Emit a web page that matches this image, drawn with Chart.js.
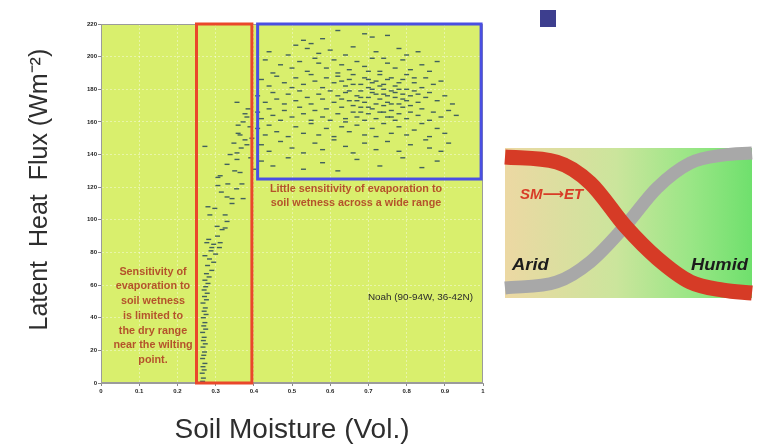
<!DOCTYPE html>
<html>
<head>
<meta charset="utf-8">
<title>Soil moisture vs latent heat flux</title>
<script src="https://cdn.jsdelivr.net/npm/chart.js@4/dist/chart.umd.min.js"></script>
<style>
    html, body { margin: 0; padding: 0; background: #fff; }
    #wrap { position: relative; width: 757px; height: 447px; overflow: hidden; }
    #scatter { position: absolute; left: 0; top: 0; }
    #curves { position: absolute; left: 495px; top: 130px; }
    #marker { position: absolute; left: 540px; top: 10px; width: 16px; height: 17px; background: #3d3e8e; }
</style>
</head>
<body>
<div id="wrap">
    <canvas id="scatter" width="495" height="447"></canvas>
    <canvas id="curves" width="262" height="190"></canvas>
    <div id="marker"></div>
</div>
<script>
// axis ticks
var xTickLabels = ['0', '0.1', '0.2', '0.3', '0.4', '0.5', '0.6', '0.7', '0.8', '0.9', '1'];
var yTickLabels = ['0', '20', '40', '60', '80', '100', '120', '140', '160', '180', '200', '220'];

// Noah daily values, dry branch (soil moisture, latent heat flux)
var dryPoints = [
    [0.266, 1], [0.268, 3], [0.265, 6], [0.270, 8], [0.267, 10], [0.272, 12], [0.266, 15], [0.269, 17],
    [0.271, 19], [0.267, 22], [0.273, 24], [0.268, 26], [0.270, 28], [0.266, 31], [0.274, 33], [0.269, 35],
    [0.272, 37], [0.268, 40], [0.275, 42], [0.270, 44], [0.273, 46], [0.267, 49], [0.276, 51], [0.271, 53],
    [0.278, 55], [0.270, 57], [0.274, 59], [0.280, 61], [0.272, 63],
    [0.283, 65], [0.276, 67], [0.290, 69], [0.279, 72], [0.295, 74], [0.284, 76], [0.272, 78], [0.300, 79],
    [0.288, 81], [0.310, 83], [0.277, 86], [0.295, 85], [0.312, 86], [0.290, 83], [0.282, 88], [0.305, 90],
    [0.317, 94], [0.325, 95], [0.304, 96], [0.330, 99], [0.285, 103], [0.325, 103], [0.298, 107], [0.280, 108],
    [0.343, 110], [0.330, 114], [0.343, 113], [0.372, 113], [0.315, 117], [0.306, 121], [0.332, 122], [0.369, 122],
    [0.355, 119], [0.306, 126], [0.312, 127],
    [0.364, 129], [0.330, 134], [0.356, 137], [0.338, 140], [0.356, 141], [0.382, 146], [0.377, 149], [0.359, 153],
    [0.364, 152], [0.359, 158], [0.382, 163], [0.377, 165], [0.356, 172], [0.390, 157], [0.372, 160], [0.395, 150],
    [0.348, 147], [0.385, 168], [0.367, 144], [0.392, 138], [0.400, 131], [0.350, 130], [0.272, 145]
];

// Noah daily values, wet regime
var wetPoints = [
    [0.62, 216], [0.69, 214], [0.71, 212], [0.58, 211], [0.53, 210], [0.75, 213],
    [0.44, 203], [0.51, 207], [0.54, 205], [0.55, 208], [0.57, 202], [0.60, 204], [0.64, 201], [0.66, 206],
    [0.72, 203], [0.78, 205], [0.80, 201], [0.49, 201], [0.83, 203],
    [0.43, 198], [0.47, 195], [0.50, 193], [0.52, 197], [0.54, 191], [0.57, 196], [0.59, 193], [0.61, 198],
    [0.63, 195], [0.65, 192], [0.67, 197], [0.69, 194], [0.71, 199], [0.73, 191], [0.75, 196], [0.77, 193],
    [0.79, 198], [0.81, 192], [0.84, 195], [0.86, 191], [0.45, 190], [0.62, 190], [0.70, 191], [0.88, 197],
    [0.56, 199], [0.74, 199],
    [0.42, 186], [0.44, 182], [0.46, 188], [0.48, 184], [0.50, 181], [0.51, 187], [0.53, 183], [0.55, 189],
    [0.56, 185], [0.58, 181], [0.59, 187], [0.61, 184], [0.62, 188], [0.64, 182], [0.65, 186], [0.66, 189],
    [0.68, 183], [0.69, 187], [0.70, 181], [0.72, 185], [0.73, 189], [0.74, 183], [0.76, 187], [0.77, 182],
    [0.79, 186], [0.80, 189], [0.82, 184], [0.84, 181], [0.85, 187], [0.87, 183], [0.89, 185], [0.71, 184],
    [0.63, 185], [0.78, 180],
    [0.41, 176], [0.43, 172], [0.45, 178], [0.46, 174], [0.48, 171], [0.49, 177], [0.51, 173], [0.52, 179],
    [0.54, 175], [0.55, 171], [0.57, 177], [0.58, 174], [0.60, 179], [0.61, 172], [0.62, 176], [0.64, 178],
    [0.65, 173], [0.66, 170], [0.67, 176], [0.68, 179], [0.69, 172], [0.70, 175], [0.71, 178], [0.72, 171],
    [0.73, 174], [0.74, 177], [0.75, 172], [0.76, 179], [0.77, 175], [0.78, 171], [0.79, 177], [0.80, 173],
    [0.81, 176], [0.82, 179], [0.83, 172], [0.85, 175], [0.86, 178], [0.88, 173], [0.90, 176], [0.92, 171],
    [0.67, 173], [0.75, 176],
    [0.41, 166], [0.42, 162], [0.44, 168], [0.45, 164], [0.47, 161], [0.48, 167], [0.50, 163], [0.52, 169],
    [0.53, 165], [0.55, 161], [0.56, 167], [0.58, 163], [0.59, 168], [0.60, 161], [0.62, 165], [0.63, 169],
    [0.64, 162], [0.66, 166], [0.67, 163], [0.68, 169], [0.69, 161], [0.70, 165], [0.71, 168], [0.72, 162],
    [0.73, 166], [0.74, 170], [0.75, 163], [0.76, 167], [0.77, 161], [0.78, 165], [0.79, 169], [0.80, 162],
    [0.81, 166], [0.83, 164], [0.84, 168], [0.86, 161], [0.87, 166], [0.89, 163], [0.91, 167], [0.93, 164],
    [0.41, 156], [0.43, 152], [0.44, 158], [0.46, 154], [0.49, 151], [0.51, 157], [0.53, 153], [0.55, 159],
    [0.57, 152], [0.59, 156], [0.61, 151], [0.63, 157], [0.65, 154], [0.67, 158], [0.69, 152], [0.71, 156],
    [0.72, 151], [0.74, 159], [0.76, 153], [0.78, 157], [0.80, 152], [0.82, 155], [0.84, 159], [0.86, 151],
    [0.88, 156], [0.90, 153], [0.64, 160],
    [0.42, 146], [0.44, 142], [0.47, 148], [0.50, 144], [0.53, 141], [0.56, 147], [0.58, 143], [0.61, 149],
    [0.64, 145], [0.66, 141], [0.69, 147], [0.72, 143], [0.75, 148], [0.78, 142], [0.81, 146], [0.85, 149],
    [0.86, 144], [0.89, 142], [0.91, 147],
    [0.42, 136], [0.45, 133], [0.49, 138], [0.53, 131], [0.58, 135], [0.62, 130], [0.67, 137], [0.73, 133],
    [0.79, 138], [0.84, 132], [0.88, 136],
    [0.63, 174], [0.65, 179], [0.66, 183], [0.68, 175], [0.70, 169], [0.71, 180], [0.72, 177], [0.73, 182],
    [0.74, 166], [0.75, 186], [0.76, 171], [0.77, 178], [0.78, 184], [0.79, 174], [0.80, 180], [0.81, 170],
    [0.82, 187], [0.83, 177], [0.70, 186], [0.74, 180], [0.76, 163], [0.68, 166]
];

// regime boxes: [xMin, xMax, yMin, yMax]
var dryBox = [0.25, 0.395, 0, 220];
var wetBox = [0.41, 0.995, 125, 220];

// schematic: position along aridity axis, SM->ET coupling, and soil wetness
var curvePos = [0, 0.21, 0.345, 0.49, 0.615, 0.75, 0.883, 1];
var couplingCurve = [0.94, 0.906, 0.767, 0.473, 0.267, 0.107, 0.053, 0.033];
var wetnessCurve = [0.067, 0.107, 0.24, 0.487, 0.733, 0.9, 0.953, 0.967];

function toXY(pairs) {
    return pairs.map(function (p) { return { x: p[0], y: p[1] }; });
}

// text is a little wider than the font, like the slide it came from
function wideText(ctx, text, x, y, align, sx) {
    ctx.save();
    ctx.translate(x, y);
    ctx.scale(sx, 1);
    ctx.textAlign = align;
    ctx.fillText(text, 0, 0);
    ctx.restore();
}

function boxRect(chart, b) {
    var x = chart.scales.x, y = chart.scales.y;
    var l = x.getPixelForValue(b[0]), r = x.getPixelForValue(b[1]);
    var t = y.getPixelForValue(b[3]), btm = y.getPixelForValue(b[2]);
    return [l, t, r - l, btm - t];
}

var fieldNotes = {
    id: 'fieldNotes',
    beforeDraw: function (chart) {
        var ctx = chart.ctx, a = chart.chartArea;
        ctx.save();
        ctx.fillStyle = '#d9ef6d';
        ctx.fillRect(a.left, a.top, a.right - a.left, a.bottom - a.top);
        ctx.restore();
    },
    afterDatasetsDraw: function (chart) {
        var ctx = chart.ctx, a = chart.chartArea;
        ctx.save();
        ctx.strokeStyle = '#9b9b9b';
        ctx.lineWidth = 1;
        ctx.strokeRect(a.left + 0.5, a.top + 0.5, a.right - a.left - 1, a.bottom - a.top - 1);

        ctx.lineWidth = 3;
        ctx.strokeStyle = '#e9472b';
        ctx.strokeRect.apply(ctx, boxRect(chart, dryBox));
        ctx.strokeStyle = '#4a4fe3';
        ctx.strokeRect.apply(ctx, boxRect(chart, wetBox));

        ctx.fillStyle = '#b4532b';
        ctx.font = 'bold 10px "Liberation Sans", Arial, sans-serif';
        ctx.textBaseline = 'middle';
        var dryNote = ['Sensitivity of', 'evaporation to', 'soil wetness', 'is limited to',
            'the dry range', 'near the wilting', 'point.'];
        dryNote.forEach(function (line, i) {
            wideText(ctx, line, 153, 272 + i * 14.7, 'center', 1.08);
        });
        wideText(ctx, 'Little sensitivity of evaporation to', 356, 189, 'center', 1.08);
        wideText(ctx, 'soil wetness across a wide range', 356, 203, 'center', 1.08);

        ctx.fillStyle = '#2b2b2b';
        ctx.font = '9px "Liberation Sans", Arial, sans-serif';
        wideText(ctx, 'Noah (90-94W, 36-42N)', 473, 298, 'right', 1.1);
        ctx.restore();
    }
};

var tickFont = { family: '"Liberation Sans", Arial, sans-serif', size: 6, weight: 'bold' };
var titleFamily = '"Liberation Sans", Arial, sans-serif';

new Chart(document.getElementById('scatter'), {
    type: 'scatter',
    data: {
        datasets: [
            { label: 'dry', data: toXY(dryPoints) },
            { label: 'wet', data: toXY(wetPoints) }
        ]
    },
    options: {
        responsive: false,
        animation: false,
        events: [],
        layout: { padding: { left: 0, right: 12, top: 24, bottom: 0 } },
        elements: {
            point: {
                pointStyle: 'line',
                radius: 2.5,
                borderWidth: 1.4,
                borderColor: 'rgba(38, 70, 92, 0.85)',
                backgroundColor: 'rgba(38, 70, 92, 0.85)'
            }
        },
        plugins: { legend: { display: false }, tooltip: { enabled: false } },
        scales: {
            x: {
                type: 'linear', min: 0, max: 1,
                afterFit: function (s) { s.height = 64; },
                ticks: {
                    stepSize: 0.1, font: tickFont, color: '#222', padding: 2, maxRotation: 0,
                    callback: function (v, i) { return xTickLabels[i]; }
                },
                grid: { color: 'rgba(255, 255, 255, 0.4)', tickColor: '#888', tickLength: 3 },
                border: { color: '#9b9b9b', dash: [2, 2] },
                title: {
                    display: true, text: 'Soil Moisture (Vol.)', color: '#2e2e2e',
                    font: { family: titleFamily, size: 28 }, padding: { top: 0, bottom: 0 }
                }
            },
            y: {
                type: 'linear', min: 0, max: 220,
                afterFit: function (s) { s.width = 101; },
                ticks: {
                    stepSize: 20, font: tickFont, color: '#222', padding: 1,
                    callback: function (v, i) { return yTickLabels[i]; }
                },
                grid: { color: 'rgba(255, 255, 255, 0.4)', tickColor: '#888', tickLength: 3 },
                border: { color: '#9b9b9b', dash: [2, 2] },
                title: {
                    display: true, text: '    Latent  Heat  Flux (Wm\u207B\u00B2)', color: '#2e2e2e',
                    font: { family: titleFamily, size: 25 }, padding: { top: 25, bottom: 0 }
                }
            }
        }
    },
    plugins: [fieldNotes]
});

var climatePanel = {
    id: 'climatePanel',
    beforeDraw: function (chart) {
        var ctx = chart.ctx, a = chart.chartArea;
        var g = ctx.createLinearGradient(a.left, 0, a.right, 0);
        g.addColorStop(0, '#ecd8a3');
        g.addColorStop(0.45, '#cbe59c');
        g.addColorStop(0.75, '#9ae686');
        g.addColorStop(1, '#6fe06d');
        ctx.save();
        ctx.fillStyle = g;
        ctx.fillRect(a.left, a.top, a.right - a.left, a.bottom - a.top);
        ctx.restore();
    },
    afterDatasetsDraw: function (chart) {
        var ctx = chart.ctx, a = chart.chartArea;
        ctx.save();
        ctx.textBaseline = 'middle';
        ctx.fillStyle = '#d83c27';
        ctx.font = 'italic bold 15px "Liberation Sans", Arial, "DejaVu Sans", sans-serif';
        wideText(ctx, 'SM\u27F6ET', a.left + 15, a.top + 47, 'left', 1.0);
        ctx.fillStyle = '#1c1c1c';
        ctx.font = 'italic bold 17px "Liberation Sans", Arial, sans-serif';
        wideText(ctx, 'Arid', a.left + 7, a.top + 117, 'left', 1.08);
        wideText(ctx, 'Humid', a.right - 4, a.top + 117, 'right', 1.08);
        ctx.restore();
    }
};

new Chart(document.getElementById('curves'), {
    type: 'line',
    data: {
        datasets: [
            {
                label: 'SM\u2192ET',
                data: curvePos.map(function (x, i) { return { x: x, y: couplingCurve[i] }; }),
                borderColor: '#d63b26', borderWidth: 15
            },
            {
                label: 'wetness',
                data: curvePos.map(function (x, i) { return { x: x, y: wetnessCurve[i] }; }),
                borderColor: '#a8a8a8', borderWidth: 13
            }
        ]
    },
    options: {
        responsive: false,
        animation: false,
        events: [],
        layout: { padding: { left: 10, right: 5, top: 18, bottom: 22 } },
        datasets: { line: { clip: false, cubicInterpolationMode: 'monotone', borderCapStyle: 'butt', fill: false } },
        elements: { point: { radius: 0 } },
        plugins: { legend: { display: false }, tooltip: { enabled: false } },
        scales: {
            x: { type: 'linear', min: 0, max: 1, display: false },
            y: { min: 0, max: 1, display: false }
        }
    },
    plugins: [climatePanel]
});
</script>
</body>
</html>
